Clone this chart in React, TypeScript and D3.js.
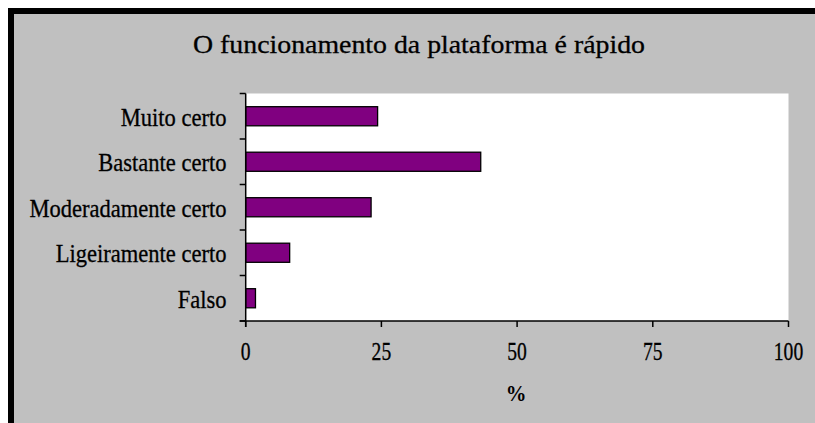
import React from "react";
import * as d3 from "d3";

const categories = ["Muito certo", "Bastante certo", "Moderadamente certo", "Ligeiramente certo", "Falso"];
const values = [24.3, 43.3, 23.1, 8.1, 1.8];
const xTicks = [0, 25, 50, 75, 100];
const title = "O funcionamento da plataforma é rápido";
const xTitle = "%";

const W = 815;
const H = 423;
const FONT = "Liberation Serif";
const TXT_STROKE = 0.3;

export default function App() {
  const plot = { left: 245.7, right: 788.5, top: 93.5, bottom: 321 };
  const x = d3.scaleLinear().domain([0, 100]).range([plot.left, plot.right]);
  const y = d3
    .scaleBand<string>()
    .domain(categories)
    .range([plot.top, plot.bottom])
    .paddingInner(0.58)
    .paddingOuter(0.29);
  const step = y.step();
  const boundaries = d3.range(categories.length + 1).map((i) => plot.top + i * step);

  return (
    <svg width={W} height={H} style={{ position: "fixed", left: 0, top: 0, background: "#ffffff" }}>
      {/* chart area */}
      <rect x={8} y={8} width={W} height={H} fill="#c0c0c0" />
      <rect x={8} y={8} width={6} height={H} fill="#000" />
      <rect x={8} y={8} width={W} height={6} fill="#000" />

      {/* title */}
      <text
        x={193}
        y={52.5}
        fontFamily={FONT}
        fontSize={25.5}
        textLength={452}
        lengthAdjust="spacingAndGlyphs"
        fill="#000"
        stroke="#000"
        strokeWidth={TXT_STROKE}
      >
        {title}
      </text>

      {/* plot area */}
      <rect
        x={plot.left}
        y={plot.top}
        width={plot.right - plot.left}
        height={plot.bottom - plot.top}
        fill="#ffffff"
      />

      {/* bars */}
      {categories.map((c, i) => (
        <rect
          key={c}
          x={x(0)}
          y={y(c)}
          width={x(values[i]) - x(0)}
          height={y.bandwidth()}
          fill="#800080"
          stroke="#000"
          strokeWidth={1.3}
        />
      ))}

      {/* y axis */}
      <line x1={plot.left} x2={plot.left} y1={plot.top} y2={plot.bottom + 6} stroke="#000" strokeWidth={1.5} />
      {boundaries.map((b, i) => (
        <line key={i} x1={plot.left - 6} x2={plot.left} y1={b} y2={b} stroke="#000" strokeWidth={1.5} />
      ))}
      {categories.map((c) => (
        <text
          key={c}
          transform={`translate(${226.5},${(y(c) as number) + y.bandwidth() / 2 + 9.5}) scale(0.92,1)`}
          textAnchor="end"
          fontFamily={FONT}
          fontSize={24.5}
          fill="#000"
          stroke="#000"
          strokeWidth={TXT_STROKE}
        >
          {c}
        </text>
      ))}

      {/* x axis */}
      <line x1={plot.left - 6} x2={plot.right} y1={plot.bottom} y2={plot.bottom} stroke="#000" strokeWidth={1.5} />
      {xTicks.map((t) => (
        <g key={t}>
          <line x1={x(t)} x2={x(t)} y1={plot.bottom} y2={plot.bottom + 6} stroke="#000" strokeWidth={1.5} />
          <text
            transform={`translate(${x(t)},${360}) scale(0.8,1)`}
            textAnchor="middle"
            fontFamily={FONT}
            fontSize={24.5}
            fill="#000"
            stroke="#000"
            strokeWidth={TXT_STROKE}
          >
            {t}
          </text>
        </g>
      ))}
      <text
        transform={`translate(${516},${401}) scale(0.9,1)`}
        textAnchor="middle"
        fontFamily={FONT}
        fontSize={23}
        fontWeight="bold"
        fill="#000"
      >
        {xTitle}
      </text>
    </svg>
  );
}
